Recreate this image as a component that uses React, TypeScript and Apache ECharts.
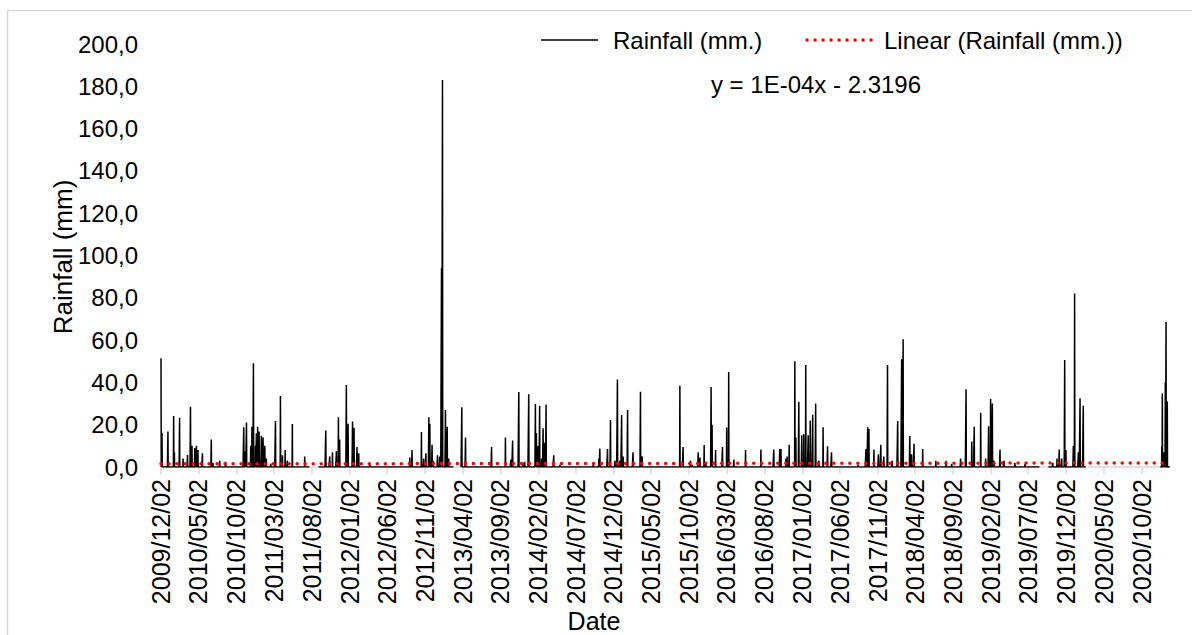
import React, { useEffect, useRef } from "react";
import * as echarts from "echarts";

// ---- data ----
const startDate = "2009/12/02";
const endDate = "2021/01/25";
const seriesName = "Rainfall (mm.)";
const trendName = "Linear (Rainfall (mm.))";
const trendEquation = "y = 1E-04x - 2.3196";
const trendStartValue = 1.5;
const trendEndValue = 1.9;
const yMin = 0;
const yMax = 200;
const yStep = 20;
const labelMonthStep = 5;

// periods without records (line breaks)
const gapFrom = ["2011/07/26", "2013/02/26", "2019/08/19", "2020/02/22"];
const gapTo = ["2011/08/28", "2013/03/26", "2019/09/21", "2020/12/15"];

// rainy days (all other recorded days: 0 mm)
const rainDates = [
  "2009/12/02", "2009/12/06", "2009/12/30", "2010/01/22", "2010/01/25", "2010/02/15", "2010/03/01", "2010/03/19",
  "2010/03/31", "2010/04/06", "2010/04/17", "2010/04/24", "2010/04/30", "2010/05/18", "2010/06/23", "2010/06/30",
  "2010/07/27", "2010/08/20", "2010/11/01", "2010/11/08", "2010/11/12", "2010/11/29", "2010/12/04", "2010/12/10",
  "2010/12/18", "2010/12/22", "2010/12/27", "2011/01/02", "2011/01/11", "2011/01/18", "2011/01/25", "2011/01/31",
  "2011/02/18", "2011/03/09", "2011/03/29", "2011/04/06", "2011/04/17", "2011/04/26", "2011/05/16", "2011/07/05",
  "2011/09/28", "2011/10/14", "2011/10/25", "2011/11/10", "2011/11/18", "2011/11/23", "2011/12/20", "2011/12/27",
  "2012/01/14", "2012/01/20", "2012/02/01", "2012/02/08", "2012/03/24", "2012/09/01", "2012/09/10", "2012/10/18",
  "2012/10/27", "2012/11/05", "2012/11/17", "2012/11/21", "2012/11/30", "2012/12/04", "2012/12/22", "2012/12/31",
  "2013/01/07", "2013/01/11", "2013/01/23", "2013/01/30", "2013/02/05", "2013/03/30", "2013/04/14", "2013/07/28",
  "2013/09/22", "2013/10/14", "2013/10/21", "2013/11/15", "2013/12/03", "2013/12/09", "2013/12/25", "2014/01/21",
  "2014/01/25", "2014/02/01", "2014/02/07", "2014/02/15", "2014/02/21", "2014/02/27", "2014/03/05", "2014/04/05",
  "2014/04/30", "2014/09/11", "2014/10/04", "2014/10/08", "2014/11/08", "2014/11/20", "2014/12/08", "2014/12/18",
  "2014/12/28", "2015/01/04", "2015/01/10", "2015/01/28", "2015/02/19", "2015/03/21", "2015/03/28", "2015/08/27",
  "2015/09/09", "2015/10/09", "2015/10/16", "2015/11/09", "2015/11/16", "2015/12/03", "2015/12/10", "2015/12/31",
  "2016/01/04", "2016/01/18", "2016/02/15", "2016/03/03", "2016/03/11", "2016/04/01", "2016/05/18", "2016/07/19",
  "2016/09/09", "2016/10/03", "2016/10/08", "2016/10/28", "2016/11/02", "2016/11/10", "2016/12/03", "2016/12/07",
  "2016/12/19", "2016/12/31", "2017/01/08", "2017/01/16", "2017/01/26", "2017/02/03", "2017/02/13", "2017/02/25",
  "2017/03/10", "2017/03/27", "2017/04/14", "2017/04/30", "2017/08/16", "2017/09/16", "2017/09/23", "2017/09/28",
  "2017/10/18", "2017/11/05", "2017/11/15", "2017/11/27", "2017/12/12", "2017/12/31", "2018/01/22", "2018/02/07",
  "2018/02/13", "2018/03/12", "2018/03/19", "2018/03/29", "2018/05/03", "2018/06/25", "2018/08/05", "2018/08/28",
  "2018/10/03", "2018/10/25", "2018/11/17", "2018/11/27", "2018/12/23", "2019/01/12", "2019/01/24", "2019/02/01",
  "2019/02/08", "2019/02/15", "2019/03/11", "2019/03/27", "2019/05/10", "2019/06/20", "2019/10/10", "2019/10/27",
  "2019/11/05", "2019/11/15", "2019/11/27", "2019/12/02", "2020/01/01", "2020/01/06", "2020/01/21", "2020/01/28",
  "2020/02/10", "2020/12/23", "2020/12/25", "2021/01/01", "2021/01/06", "2021/01/09", "2021/01/14",
];
const rainMm = [
  51.4, 16.2, 16.8, 24.1, 7, 23.3, 4, 5.7,
  28.5, 10, 9, 10, 8, 6.5, 13, 2,
  3, 2.5, 18.8, 7.5, 21, 10, 19, 49,
  10, 15.9, 19, 16.8, 14.8, 14, 10, 4,
  1.5, 21.7, 33.6, 5.5, 8, 3, 20.3, 5,
  17.2, 5, 7, 7.5, 23.5, 13, 38.8, 20.5,
  21.5, 18.5, 9.5, 6.5, 1, 4.5, 8, 16.5,
  4, 6.5, 23.5, 20.5, 10.5, 3, 5.5, 5,
  94, 183, 27, 19, 4, 28.2, 14, 9.5,
  14, 3.5, 12.5, 35.5, 2, 2.5, 34.4, 29.8,
  16, 10, 29, 4, 18.3, 11.5, 29.5, 5.5,
  1, 1.5, 4, 8.7, 8.5, 22.2, 3, 41.4,
  3, 24.6, 5, 27, 7, 35.6, 5, 38.4,
  9.5, 3, 1, 7, 4.5, 10.4, 2, 37.8,
  20, 8, 9.5, 18.7, 44.9, 3.5, 8, 8.3,
  8.3, 8.5, 8.5, 4, 5, 10.5, 50, 14,
  30.8, 15, 15.5, 48.2, 15, 22, 24.7, 30,
  3, 18.8, 9.8, 7, 1, 8.5, 18.8, 18,
  8.3, 6, 10.5, 5, 48.2, 3, 21.7, 51,
  60.4, 14.7, 6, 11, 8.5, 3, 3, 1.5,
  4, 36.7, 12, 19, 25.7, 4, 19.3, 32.1,
  30, 3, 8.3, 3, 2, 1.5, 2, 4,
  8.3, 4, 50.6, 8, 10, 82, 7, 32.5,
  29, 9.4, 34.8, 7, 40, 68.5, 31,
];

// ---- helpers ----
const DAY = 86400000;
function parseDate(s: string): number {
  const [y, m, d] = s.split("/").map(Number);
  return Date.UTC(y, m - 1, d);
}
function fmtDate(t: number): string {
  const d = new Date(t);
  const y = d.getUTCFullYear();
  const m = String(d.getUTCMonth() + 1).padStart(2, "0");
  const dd = String(d.getUTCDate()).padStart(2, "0");
  return `${y}/${m}/${dd}`;
}

const categories: string[] = [];
for (let t = parseDate(startDate); t <= parseDate(endDate); t += DAY) categories.push(fmtDate(t));

const gapRanges = gapFrom.map((g, i) => [parseDate(g), parseDate(gapTo[i])]);
const rainMap = new Map<string, number>();
rainDates.forEach((d, i) => rainMap.set(d, rainMm[i]));
const rainSeries = categories.map((c) => {
  const t = parseDate(c);
  if (gapRanges.some(([a, b]) => t >= a && t <= b)) return null;
  return rainMap.has(c) ? rainMap.get(c)! : 0;
});
const trendSeries = [
  [0, trendStartValue],
  [categories.length - 1, trendEndValue],
];

const [sy, sm] = startDate.split("/").map(Number);
const showLabel = (_idx: number, value: string) => {
  const [y, m, d] = value.split("/").map(Number);
  if (d !== 2) return false;
  const months = (y - sy) * 12 + (m - sm);
  return months % labelMonthStep === 0;
};

const FONT = "'Liberation Sans', Arial, sans-serif";

export default function App() {
  const ref = useRef<HTMLDivElement>(null);
  useEffect(() => {
    if (!ref.current) return;
    const chart = echarts.init(ref.current, undefined, { renderer: "svg" });
    chart.setOption({
      animation: false,
      backgroundColor: "#ffffff",
      textStyle: { fontFamily: FONT },
      grid: { left: 161, right: 22, top: 44, bottom: 168, containLabel: false },
      xAxis: {
        type: "category",
        data: categories,
        boundaryGap: false,
        axisLine: { show: true, lineStyle: { color: "#d9d9d9", width: 1.5 } },
        axisTick: { show: true, interval: showLabel, length: 7, lineStyle: { color: "#d9d9d9", width: 1.5 } },
        axisLabel: {
          interval: showLabel,
          rotate: 90,
          margin: 12,
          color: "#000",
          fontSize: 25,
          fontFamily: FONT,
        },
        splitLine: { show: false },
      },
      yAxis: {
        type: "value",
        min: yMin,
        max: yMax,
        interval: yStep,
        axisLine: { show: false },
        axisTick: { show: false },
        splitLine: { show: false },
        axisLabel: {
          margin: 23,
          color: "#000",
          fontSize: 24,
          fontFamily: FONT,
          formatter: (v: number) => v.toFixed(1).replace(".", ","),
        },
      },
      series: [
        {
          name: seriesName,
          type: "line",
          data: rainSeries,
          symbol: "none",
          showSymbol: false,
          connectNulls: false,
          lineStyle: { color: "#000", width: 1.5 },
          itemStyle: { color: "#000" },
          z: 2,
        },
        {
          name: trendName,
          type: "line",
          data: trendSeries,
          symbol: "none",
          showSymbol: false,
          lineStyle: { color: "#ff0000", width: 3.5, type: [0.01, 8], cap: "round" },
          itemStyle: { color: "#ff0000" },
          z: 3,
        },
      ],
      graphic: [
        {
          type: "rect",
          shape: { x: 7.5, y: 10.5, width: 1300, height: 800 },
          style: { fill: "none", stroke: "#d9d9d9", lineWidth: 1.5 },
          silent: true,
        },
        {
          type: "text",
          x: 63,
          y: 257,
          rotation: Math.PI / 2,
          style: {
            text: "Rainfall (mm)",
            fill: "#000",
            font: `26px ${FONT}`,
            align: "center",
            verticalAlign: "middle",
            textAlign: "center",
            textVerticalAlign: "middle",
          },
        },
        {
          type: "text",
          x: 594,
          y: 621,
          style: {
            text: "Date",
            fill: "#000",
            font: `25px ${FONT}`,
            align: "center",
            verticalAlign: "middle",
            textAlign: "center",
            textVerticalAlign: "middle",
          },
        },
        {
          type: "line",
          shape: { x1: 541, y1: 40, x2: 598, y2: 40 },
          style: { stroke: "#000", lineWidth: 1.5 },
        },
        {
          type: "text",
          x: 613,
          y: 40,
          style: {
            text: seriesName,
            fill: "#000",
            font: `24px ${FONT}`,
            align: "left",
            verticalAlign: "middle",
            textAlign: "left",
            textVerticalAlign: "middle",
          },
        },
        {
          type: "line",
          shape: { x1: 807, y1: 40, x2: 872, y2: 40 },
          style: { stroke: "#ff0000", lineWidth: 3.5, lineDash: [0.01, 8], lineCap: "round" },
        },
        {
          type: "text",
          x: 884,
          y: 40,
          style: {
            text: trendName,
            fill: "#000",
            font: `24px ${FONT}`,
            align: "left",
            verticalAlign: "middle",
            textAlign: "left",
            textVerticalAlign: "middle",
          },
        },
        {
          type: "text",
          x: 816,
          y: 84,
          style: {
            text: trendEquation,
            fill: "#000",
            font: `24px ${FONT}`,
            align: "center",
            verticalAlign: "middle",
            textAlign: "center",
            textVerticalAlign: "middle",
          },
        },
      ],
    });
    return () => chart.dispose();
  }, []);
  return (
    <div
      ref={ref}
      style={{ position: "fixed", left: 0, top: 0, width: 1192, height: 635, background: "#fff" }}
    />
  );
}
